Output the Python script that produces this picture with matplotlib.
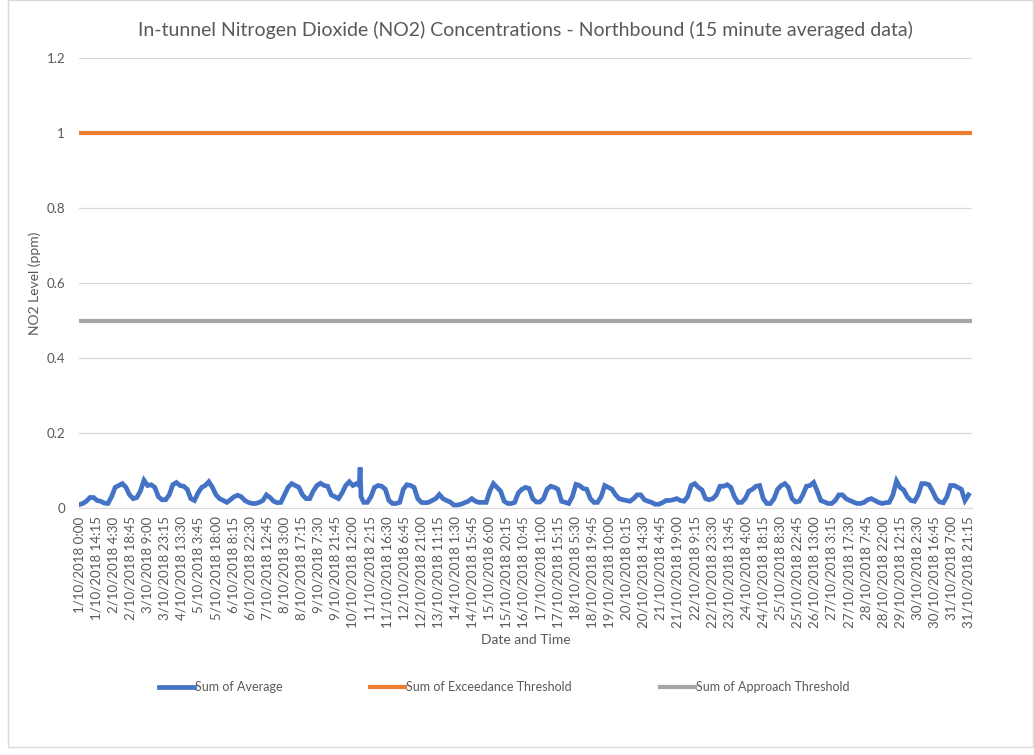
import pandas as pd
import matplotlib.pyplot as plt
from matplotlib.patches import Rectangle

# 15 minute timeline for October 2018 (one reading missing on 16/10)
timeline = pd.date_range('2018-10-01 00:00', '2018-10-31 23:45', freq='15min')
timeline = timeline.drop(pd.Timestamp('2018-10-16 02:15'))

# NO2 average, every 3 hours (0,3,6,9,12,15,18,21h) per day
avg_3h = [
    0.009, 0.012, 0.018, 0.028, 0.028, 0.020, 0.018, 0.013,   # 1/10
    0.012, 0.030, 0.055, 0.060, 0.065, 0.055, 0.035, 0.025,   # 2/10
    0.028, 0.045, 0.074, 0.060, 0.062, 0.055, 0.030, 0.022,   # 3/10
    0.022, 0.035, 0.062, 0.068, 0.060, 0.058, 0.050, 0.025,   # 4/10
    0.020, 0.040, 0.055, 0.060, 0.070, 0.055, 0.035, 0.025,   # 5/10
    0.020, 0.015, 0.022, 0.030, 0.034, 0.030, 0.020, 0.015,   # 6/10
    0.012, 0.012, 0.015, 0.020, 0.035, 0.028, 0.018, 0.014,   # 7/10
    0.015, 0.035, 0.055, 0.065, 0.060, 0.055, 0.035, 0.025,   # 8/10
    0.025, 0.045, 0.060, 0.066, 0.060, 0.058, 0.035, 0.030,   # 9/10
    0.025, 0.040, 0.060, 0.070, 0.060, 0.065, 0.108, 0.015,   # 10/10
    0.015, 0.030, 0.055, 0.060, 0.058, 0.050, 0.020, 0.012,   # 11/10
    0.012, 0.015, 0.050, 0.062, 0.060, 0.055, 0.025, 0.015,   # 12/10
    0.014, 0.015, 0.020, 0.025, 0.036, 0.025, 0.020, 0.016,   # 13/10
    0.008, 0.008, 0.010, 0.014, 0.018, 0.025, 0.018, 0.015,   # 14/10
    0.015, 0.015, 0.045, 0.065, 0.055, 0.045, 0.018, 0.012,   # 15/10
    0.012, 0.015, 0.040, 0.050, 0.055, 0.052, 0.025, 0.016,   # 16/10
    0.016, 0.025, 0.050, 0.058, 0.055, 0.050, 0.018, 0.015,   # 17/10
    0.012, 0.030, 0.063, 0.060, 0.052, 0.050, 0.025, 0.015,   # 18/10
    0.015, 0.030, 0.060, 0.055, 0.050, 0.035, 0.025, 0.022,   # 19/10
    0.020, 0.018, 0.025, 0.035, 0.035, 0.022, 0.018, 0.015,   # 20/10
    0.010, 0.010, 0.014, 0.020, 0.020, 0.022, 0.025, 0.020,   # 21/10
    0.018, 0.030, 0.060, 0.065, 0.055, 0.048, 0.025, 0.022,   # 22/10
    0.025, 0.035, 0.058, 0.058, 0.062, 0.055, 0.030, 0.015,   # 23/10
    0.015, 0.025, 0.045, 0.050, 0.058, 0.060, 0.025, 0.012,   # 24/10
    0.012, 0.025, 0.050, 0.060, 0.065, 0.055, 0.025, 0.016,   # 25/10
    0.018, 0.035, 0.058, 0.060, 0.068, 0.045, 0.020, 0.016,   # 26/10
    0.012, 0.012, 0.020, 0.035, 0.035, 0.025, 0.020, 0.016,   # 27/10
    0.012, 0.012, 0.015, 0.022, 0.025, 0.020, 0.015, 0.012,   # 28/10
    0.014, 0.015, 0.035, 0.072, 0.055, 0.048, 0.030, 0.020,   # 29/10
    0.018, 0.035, 0.065, 0.065, 0.062, 0.045, 0.025, 0.016,   # 30/10
    0.014, 0.030, 0.060, 0.060, 0.055, 0.050, 0.020, 0.035,   # 31/10
]
# extra readings around the short spike on 10/10
spike_times = ['2018-10-10 17:15', '2018-10-10 18:45']
spike_vals = [0.060, 0.030]

exceedance = 1.0
approach = 0.5

x_tick_labels = [
    '1/10/2018 0:00', '1/10/2018 14:15', '2/10/2018 4:30', '2/10/2018 18:45',
    '3/10/2018 9:00', '3/10/2018 23:15', '4/10/2018 13:30', '5/10/2018 3:45',
    '5/10/2018 18:00', '6/10/2018 8:15', '6/10/2018 22:30', '7/10/2018 12:45',
    '8/10/2018 3:00', '8/10/2018 17:15', '9/10/2018 7:30', '9/10/2018 21:45',
    '10/10/2018 12:00', '11/10/2018 2:15', '11/10/2018 16:30', '12/10/2018 6:45',
    '12/10/2018 21:00', '13/10/2018 11:15', '14/10/2018 1:30', '14/10/2018 15:45',
    '15/10/2018 6:00', '15/10/2018 20:15', '16/10/2018 10:45', '17/10/2018 1:00',
    '17/10/2018 15:15', '18/10/2018 5:30', '18/10/2018 19:45', '19/10/2018 10:00',
    '20/10/2018 0:15', '20/10/2018 14:30', '21/10/2018 4:45', '21/10/2018 19:00',
    '22/10/2018 9:15', '22/10/2018 23:30', '23/10/2018 13:45', '24/10/2018 4:00',
    '24/10/2018 18:15', '25/10/2018 8:30', '25/10/2018 22:45', '26/10/2018 13:00',
    '27/10/2018 3:15', '27/10/2018 17:30', '28/10/2018 7:45', '28/10/2018 22:00',
    '29/10/2018 12:15', '30/10/2018 2:30', '30/10/2018 16:45', '31/10/2018 7:00',
    '31/10/2018 21:15',
]

# build the average series and place it on the category positions
read_times = pd.date_range('2018-10-01 00:00', periods=len(avg_3h), freq='3h')
avg = pd.Series(avg_3h, index=read_times)
avg = pd.concat([avg, pd.Series(spike_vals, index=pd.to_datetime(spike_times))]).sort_index()
avg_pos = timeline.get_indexer(avg.index)
n = len(timeline)

plt.rcParams['font.family'] = ['Lato', 'DejaVu Sans']
grey_txt = '#595959'

fig = plt.figure(figsize=(10.34, 7.55), dpi=100)
ax = fig.add_axes([79 / 1034, 1 - 508 / 755, (972 - 79) / 1034, (508 - 58) / 755])

ax.plot(avg_pos, avg.values, color='#4472C4', lw=3.4, label='Sum of Average', zorder=3,
        solid_joinstyle='miter')
ax.plot([0, n - 1], [exceedance] * 2, color='#ED7D31', lw=3.0, label='Sum of Exceedance Threshold')
ax.plot([0, n - 1], [approach] * 2, color='#A5A5A5', lw=3.0, label='Sum of Approach Threshold')

ax.set_xlim(-0.5, n - 0.5)
ax.set_ylim(0, 1.2)
ax.set_yticks([0, 0.2, 0.4, 0.6, 0.8, 1.0, 1.2])
ax.set_yticklabels(['0', '0.2', '0.4', '0.6', '0.8', '1', '1.2'])
ax.set_xticks(range(0, n, 57))
ax.set_xticklabels(x_tick_labels, rotation=90)
ax.tick_params(axis='both', length=0, labelsize=9.6, colors=grey_txt)
ax.tick_params(axis='x', pad=6)
ax.tick_params(axis='y', pad=10)
ax.grid(axis='y', color='#D9D9D9', lw=0.9)
for s in ['top', 'right', 'left']:
    ax.spines[s].set_visible(False)
ax.spines['bottom'].set_color('#D9D9D9')

ax.set_title('In-tunnel Nitrogen Dioxide (NO2) Concentrations - Northbound (15 minute averaged data)',
             fontsize=14, color=grey_txt, pad=16)
ax.set_ylabel('NO2 Level (ppm)', fontsize=10, color=grey_txt, labelpad=4)
ax.set_xlabel('Date and Time', fontsize=10, color=grey_txt, labelpad=4)

fig.legend(loc='center', bbox_to_anchor=(504 / 1034, 1 - 687 / 755), ncol=3, frameon=False,
           fontsize=9, labelcolor=grey_txt, handlelength=2.8, handletextpad=0.1,
           columnspacing=7)

fig.patches.append(Rectangle((8 / 1034, 8 / 755), 1 - 9 / 1034, 1 - 8 / 755,
                             transform=fig.transFigure, fill=False, ec='#D9D9D9', lw=1))

fig.savefig('out.png', dpi=100)
